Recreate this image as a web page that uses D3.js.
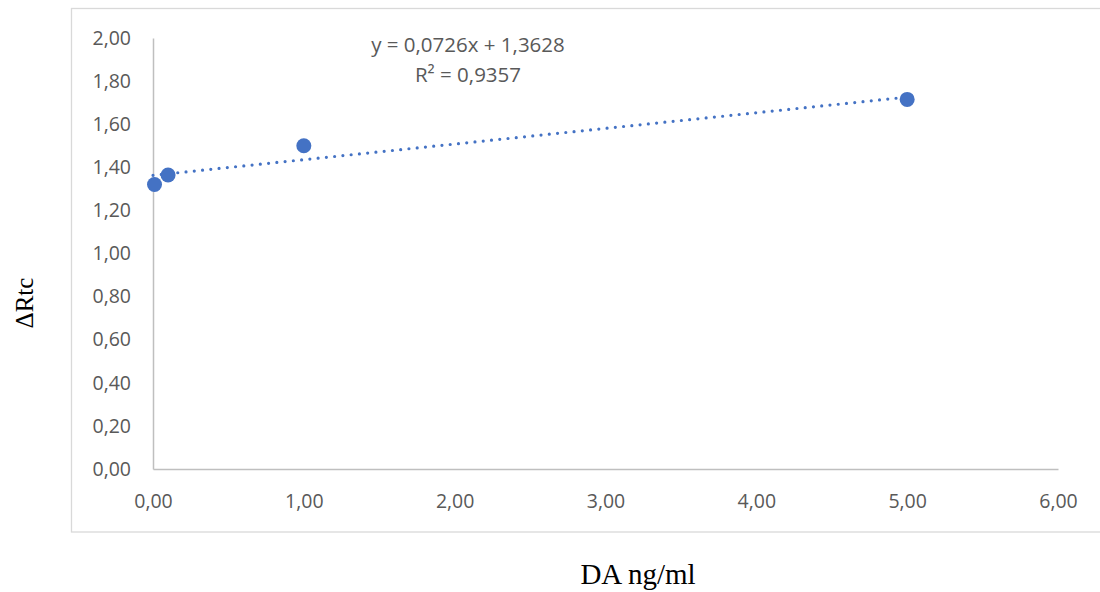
<!DOCTYPE html>
<html>
<head>
<meta charset="utf-8">
<script src="https://cdn.jsdelivr.net/npm/d3@7"></script>
<style>
  html, body { margin: 0; padding: 0; background: #fff; }
  svg { display: block; }
</style>
</head>
<body>
<svg id="chart" width="1100" height="592"></svg>
<script>
// Measurements: dopamine concentration vs ΔRtc
const concentrations = [0.01, 0.1, 1.0, 5.0];
const deltaRtc = [1.32, 1.364, 1.50, 1.715];

// Linear trendline coefficients
const slope = 0.0726;
const intercept = 1.3628;
const rSquared = 0.9357;

const xTicks = [0, 1, 2, 3, 4, 5, 6];
const yTicks = [0, 0.2, 0.4, 0.6, 0.8, 1.0, 1.2, 1.4, 1.6, 1.8, 2.0];

const fmt = v => v.toFixed(2).replace('.', ',');
const fmt4 = v => v.toFixed(4).replace('.', ',');

const svg = d3.select('#chart');

// Chart area frame
svg.append('rect')
  .attr('x', 71.5).attr('y', 8.5)
  .attr('width', 1040).attr('height', 523.5)
  .attr('fill', '#fff')
  .attr('stroke', '#d9d9d9')
  .attr('stroke-width', 1.3);

const plot = { left: 153, right: 1058, top: 38, bottom: 469 };

const x = d3.scaleLinear().domain([0, 6]).range([plot.left, plot.right]);
const y = d3.scaleLinear().domain([0, 2]).range([plot.bottom, plot.top]);

const tickFont = '"Open Sans", "Liberation Sans", sans-serif';
const labelColor = '#595959';
const tickSize = '19.5px';

// Y axis
const yAxis = svg.append('g')
  .attr('transform', `translate(${plot.left},0)`)
  .call(d3.axisLeft(y).tickValues(yTicks).tickFormat(fmt).tickSize(0).tickPadding(22));
yAxis.select('.domain').attr('stroke', '#bfbfbf').attr('stroke-width', 1.5);
yAxis.selectAll('text')
  .attr('fill', labelColor)
  .style('font-family', tickFont)
  .style('font-size', tickSize);

// X axis
const xAxis = svg.append('g')
  .attr('transform', `translate(0,${plot.bottom})`)
  .call(d3.axisBottom(x).tickValues(xTicks).tickFormat(fmt).tickSize(0).tickPadding(25));
xAxis.select('.domain').attr('stroke', '#bfbfbf').attr('stroke-width', 1.5);
xAxis.selectAll('text')
  .attr('fill', labelColor)
  .style('font-family', tickFont)
  .style('font-size', tickSize);

// Dotted linear trendline across the measured range
const xs = [0, d3.max(concentrations)];
svg.append('line')
  .attr('x1', x(xs[0])).attr('y1', y(slope * xs[0] + intercept))
  .attr('x2', x(xs[1])).attr('y2', y(slope * xs[1] + intercept))
  .attr('stroke', '#4472c4')
  .attr('stroke-width', 3.2)
  .attr('stroke-linecap', 'round')
  .attr('stroke-dasharray', '0 8.3');

// Data points
const pts = concentrations.map((c, i) => ({ c, v: deltaRtc[i] }));
svg.append('g').selectAll('circle')
  .data(pts)
  .join('circle')
  .attr('cx', d => x(d.c))
  .attr('cy', d => y(d.v))
  .attr('r', 7.5)
  .attr('fill', '#4472c4');

// Trendline equation
const eq = svg.append('text')
  .attr('x', 468).attr('y', 52)
  .attr('text-anchor', 'middle')
  .attr('fill', labelColor)
  .style('font-family', tickFont)
  .style('font-size', '20.5px');
eq.append('tspan').attr('x', 468).attr('dy', 0)
  .text(`y = ${fmt4(slope)}x + ${fmt4(intercept)}`);
eq.append('tspan').attr('x', 468).attr('dy', 30)
  .text(`R² = ${fmt4(rSquared)}`);

// Axis titles
svg.append('text')
  .attr('x', 638).attr('y', 584)
  .attr('text-anchor', 'middle')
  .attr('fill', '#000')
  .style('font-family', '"Liberation Serif", "DejaVu Serif", serif')
  .style('font-size', '29px')
  .text('DA ng/ml');

svg.append('text')
  .attr('transform', 'translate(33,303) rotate(-90)')
  .attr('text-anchor', 'middle')
  .attr('fill', '#000')
  .style('font-family', '"Liberation Serif", "DejaVu Serif", serif')
  .style('font-size', '25px')
  .text('ΔRtc');
</script>
</body>
</html>
